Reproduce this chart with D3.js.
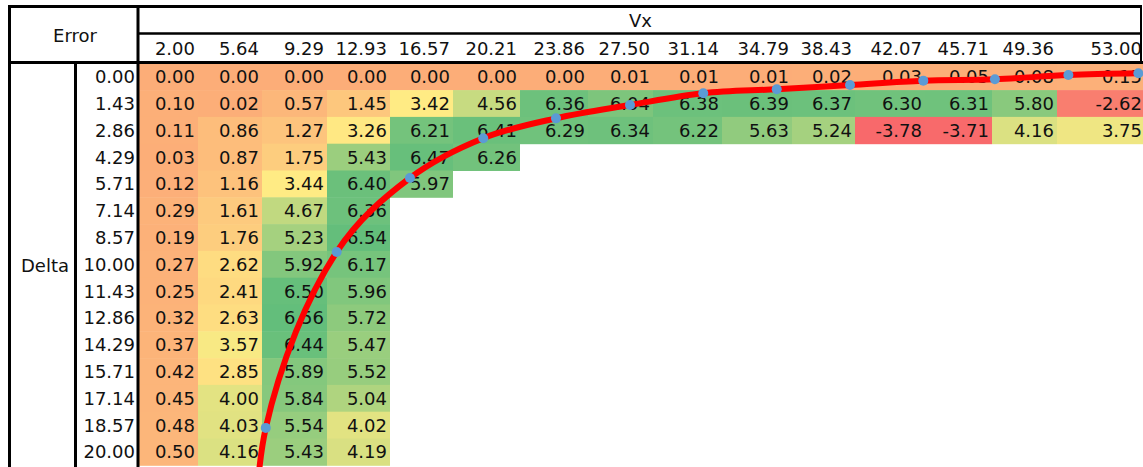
<!DOCTYPE html>
<html>
<head>
<meta charset="utf-8">
<script src="https://cdn.jsdelivr.net/npm/d3@7"></script>
<style>
  html, body { margin: 0; padding: 0; background: #fff; }
  svg { display: block; }
  text { font-family: "DejaVu Sans", sans-serif; fill: #111; }
</style>
</head>
<body>
<svg id="chart" width="1143" height="467"></svg>
<script>
// ---------------- DATA ----------------
const vxLabels = ["2.00","5.64","9.29","12.93","16.57","20.21","23.86","27.50","31.14","34.79","38.43","42.07","45.71","49.36","53.00"];
const deltaLabels = ["0.00","1.43","2.86","4.29","5.71","7.14","8.57","10.00","11.43","12.86","14.29","15.71","17.14","18.57","20.00"];
// Error values, one array per Delta row (missing = empty cell)
const row000 = [0.00,0.00,0.00,0.00,0.00,0.00,0.00,0.01,0.01,0.01,0.02,0.03,0.05,0.08,0.15];
const row143 = [0.10,0.02,0.57,1.45,3.42,4.56,6.36,6.04,6.38,6.39,6.37,6.30,6.31,5.80,-2.62];
const row286 = [0.11,0.86,1.27,3.26,6.21,6.41,6.29,6.34,6.22,5.63,5.24,-3.78,-3.71,4.16,3.75];
const row429 = [0.03,0.87,1.75,5.43,6.47,6.26];
const row571 = [0.12,1.16,3.44,6.40,5.97];
const row714 = [0.29,1.61,4.67,6.36];
const row857 = [0.19,1.76,5.23,6.54];
const row1000 = [0.27,2.62,5.92,6.17];
const row1143 = [0.25,2.41,6.50,5.96];
const row1286 = [0.32,2.63,6.56,5.72];
const row1429 = [0.37,3.57,6.44,5.47];
const row1571 = [0.42,2.85,5.89,5.52];
const row1714 = [0.45,4.00,5.84,5.04];
const row1857 = [0.48,4.03,5.54,4.02];
const row2000 = [0.50,4.16,5.43,4.19];
const errorRows = [row000,row143,row286,row429,row571,row714,row857,row1000,row1143,row1286,row1429,row1571,row1714,row1857,row2000];

// Overlay curve (Vx, Delta)
const curveVx    = [6.6, 7.35, 11.23, 15.24, 19.25, 23.23, 27.28, 31.29, 35.31, 39.32, 43.33, 47.25, 51.27, 55.10];
const curveDelta = [32.0, 18.72, 9.34, 5.40, 3.28, 2.22, 1.51, 0.88, 0.67, 0.44, 0.21, 0.14, -0.09, -0.18];
const markerFrom = 1; // first point is the off-canvas continuation of the curve

// ---------------- LAYOUT ----------------
const W = 1143, H = 467;
const colEdges = [138,198,262,327,390,453,520,588,653,722,792,855,925,992,1057,1145];
const tableLeft = 9.5, labelColX = 75.5, bodyLeft = 138;
const topY = 6.5, headMidY = 33.5, headBottomY = 62.5;
const rowTop = 63.3, rowH = 26.8;
const fontSize = 18;

const svg = d3.select("#chart");
svg.append("rect").attr("width", W).attr("height", H).attr("fill", "#fff");

// scales
const xLeft = d3.scaleOrdinal().domain(vxLabels).range(colEdges.slice(0, -1));
const xRight = d3.scaleOrdinal().domain(vxLabels).range(colEdges.slice(1));
const y = d3.scaleBand().domain(deltaLabels).range([rowTop, rowTop + rowH * deltaLabels.length]);

const allVals = errorRows.flat().filter(v => v != null);
const vMin = d3.min(allVals), vMax = d3.max(allVals), vMid = d3.quantile(allVals.slice().sort(d3.ascending), 0.5);
const color = d3.scaleLinear().domain([vMin, vMid, vMax]).range(["#F8696B", "#FFEB84", "#63BE7B"]);

const cells = [];
errorRows.forEach((row, ri) => row.forEach((v, ci) => {
  if (v != null) cells.push({ r: deltaLabels[ri], c: vxLabels[ci], v });
}));

// cell fills
svg.append("g").selectAll("rect").data(cells).join("rect")
  .attr("x", d => xLeft(d.c))
  .attr("y", d => y(d.r))
  .attr("width", d => xRight(d.c) - xLeft(d.c))
  .attr("height", y.bandwidth() + 0.5)
  .attr("fill", d => color(d.v));

// cell texts
svg.append("g").selectAll("text").data(cells).join("text")
  .attr("x", d => xRight(d.c) - 3)
  .attr("y", d => y(d.r) + y.bandwidth() / 2)
  .attr("dy", "0.36em")
  .attr("text-anchor", "end")
  .attr("font-size", fontSize)
  .text(d => d3.format(".2f")(d.v).replace("−", "-"));

// column header labels
svg.append("g").selectAll("text").data(vxLabels).join("text")
  .attr("x", d => xRight(d) - 3)
  .attr("y", (headMidY + headBottomY) / 2 + 1)
  .attr("dy", "0.36em")
  .attr("text-anchor", "end")
  .attr("font-size", fontSize)
  .text(d => d);

// row labels
svg.append("g").selectAll("text").data(deltaLabels).join("text")
  .attr("x", bodyLeft - 3)
  .attr("y", d => y(d) + y.bandwidth() / 2)
  .attr("dy", "0.36em")
  .attr("text-anchor", "end")
  .attr("font-size", fontSize)
  .text(d => d);

// titles
svg.append("text").attr("x", (bodyLeft + W) / 2).attr("y", (topY + headMidY) / 2 + 1)
  .attr("dy", "0.36em").attr("text-anchor", "middle").attr("font-size", fontSize).text("Vx");
svg.append("text").attr("x", 75).attr("y", (topY + headBottomY) / 2 + 1)
  .attr("dy", "0.36em").attr("text-anchor", "middle").attr("font-size", fontSize).text("Error");
svg.append("text").attr("x", 45).attr("y", (rowTop + H) / 2)
  .attr("dy", "0.36em").attr("text-anchor", "middle").attr("font-size", fontSize).text("Delta");

// borders
const lines = svg.append("g").attr("stroke", "#000");
lines.append("line").attr("x1", tableLeft - 1.5).attr("x2", 1142).attr("y1", topY).attr("y2", topY).attr("stroke-width", 3);
lines.append("line").attr("x1", tableLeft).attr("x2", tableLeft).attr("y1", topY).attr("y2", H).attr("stroke-width", 3);
lines.append("line").attr("x1", bodyLeft).attr("x2", bodyLeft).attr("y1", topY).attr("y2", H).attr("stroke-width", 3);
lines.append("line").attr("x1", labelColX).attr("x2", labelColX).attr("y1", headBottomY).attr("y2", H).attr("stroke-width", 3);
lines.append("line").attr("x1", bodyLeft).attr("x2", 1142).attr("y1", headMidY).attr("y2", headMidY).attr("stroke-width", 2.5);
lines.append("line").attr("x1", tableLeft - 1.5).attr("x2", W).attr("y1", headBottomY).attr("y2", headBottomY).attr("stroke-width", 3);
lines.append("line").attr("x1", 1141).attr("x2", 1141).attr("y1", topY).attr("y2", headBottomY).attr("stroke-width", 2);

// overlay curve
const xo = d3.scaleLinear().domain([2, 53]).range([(colEdges[0] + colEdges[1]) / 2, (colEdges[14] + colEdges[15]) / 2 - 1]);
const yo = d3.scaleLinear().domain([0, 20]).range([y("0.00") + y.bandwidth() / 2, y("20.00") + y.bandwidth() / 2]);
const pts = curveVx.map((v, i) => [v, curveDelta[i]]);
const lineGen = d3.line().x(d => xo(d[0])).y(d => yo(d[1])).curve(d3.curveCatmullRom.alpha(0.5));
svg.append("path").attr("d", lineGen(pts)).attr("fill", "none").attr("stroke", "#FF0000")
  .attr("stroke-width", 6).attr("stroke-linecap", "round");
svg.append("g").selectAll("circle").data(pts.slice(markerFrom)).join("circle")
  .attr("cx", d => xo(d[0])).attr("cy", d => yo(d[1])).attr("r", 5).attr("fill", "#5B9BD5");
</script>
</body>
</html>
